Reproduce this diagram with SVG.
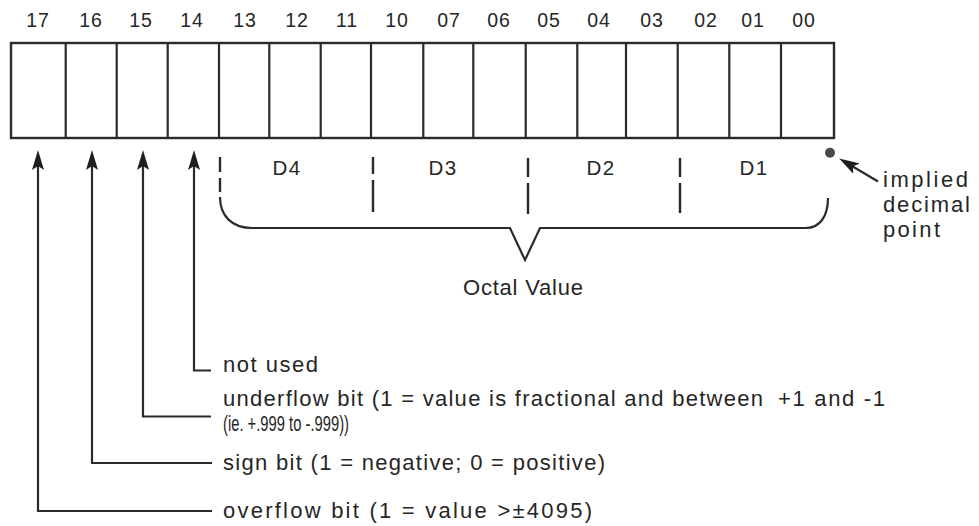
<svg xmlns="http://www.w3.org/2000/svg" width="979" height="526" viewBox="0 0 979 526">
<style>
text{font-family:"Liberation Sans",Arial,Helvetica,sans-serif;fill:#262626}
.bit{font-size:19.5px;text-anchor:middle;letter-spacing:1px}
.dg{font-size:20.5px;text-anchor:middle;letter-spacing:1.5px}
.ann{font-size:22px}
.ln{fill:none;stroke:#2b2b2b;stroke-width:2.2}
.cell{fill:none;stroke:#2b2b2b;stroke-width:2.4}
.dash{stroke:#2b2b2b;stroke-width:2.4;stroke-linecap:butt}
</style>
<defs>
<marker id="ah" viewBox="0 0 20 12" refX="12" refY="6" markerWidth="20" markerHeight="12" markerUnits="userSpaceOnUse" orient="auto">
<path d="M0,0 L20,6 L0,12 L4,6 z" fill="#1e1e1e"/>
</marker>
</defs>

<g id="bit-labels">
<text class="bit" x="38" y="27">17</text>
<text class="bit" x="91" y="27">16</text>
<text class="bit" x="141" y="27">15</text>
<text class="bit" x="192" y="27">14</text>
<text class="bit" x="245" y="27">13</text>
<text class="bit" x="297" y="27">12</text>
<text class="bit" x="347" y="27">11</text>
<text class="bit" x="397" y="27">10</text>
<text class="bit" x="449" y="27">07</text>
<text class="bit" x="499" y="27">06</text>
<text class="bit" x="549" y="27">05</text>
<text class="bit" x="599" y="27">04</text>
<text class="bit" x="652" y="27">03</text>
<text class="bit" x="706" y="27">02</text>
<text class="bit" x="753" y="27">01</text>
<text class="bit" x="804" y="27">00</text>
</g>

<g id="register">
<rect class="cell" x="11" y="43" width="823" height="95"/>
<path class="ln" d="M65.7,43V138M116.7,43V138M167.7,43V138M219,43V138M269.3,43V138M320.7,43V138M371,43V138M423.3,43V138M473.3,43V138M525.7,43V138M577.3,43V138M626,43V138M677.7,43V138M729.3,43V138M781,43V138"/>
</g>

<g id="digit-groups">
<line class="dash" x1="220" y1="157" x2="220" y2="172"/>
<line class="dash" x1="220" y1="178" x2="220" y2="192"/>
<line class="dash" x1="373" y1="157" x2="373" y2="174"/>
<line class="dash" x1="373" y1="180" x2="373" y2="212"/>
<line class="dash" x1="528" y1="158" x2="528" y2="177"/>
<line class="dash" x1="528" y1="183" x2="528" y2="214"/>
<line class="dash" x1="680" y1="158" x2="680" y2="177"/>
<line class="dash" x1="680" y1="183" x2="680" y2="213"/>
<text class="dg" x="287" y="175">D4</text>
<text class="dg" x="443" y="175">D3</text>
<text class="dg" x="601" y="175">D2</text>
<text class="dg" x="754" y="175">D1</text>
</g>

<g id="octal-value">
<path class="ln" d="M220,197 C220,216 232,228 252,228 L510,228 L525,260 L540,228 L806,228 C820,228 828,216 828,198"/>
<text class="ann" x="463" y="295" textLength="120" lengthAdjust="spacing">Octal Value</text>
</g>

<g id="decimal-point">
<circle cx="830" cy="152.7" r="5" fill="#4a4a4a"/>
<text class="ann" x="883" y="187" textLength="85" lengthAdjust="spacing">implied</text>
<text class="ann" x="883" y="212" textLength="87" lengthAdjust="spacing">decimal</text>
<text class="ann" x="883" y="237" textLength="57" lengthAdjust="spacing">point</text>
</g>

<g id="annotations">
<text class="ann" x="223" y="372" textLength="95" lengthAdjust="spacing">not used</text>
<text class="ann" x="223" y="406" textLength="540" lengthAdjust="spacing">underflow bit (1 = value is fractional and between</text>
<text class="ann" x="778" y="406" textLength="107" lengthAdjust="spacing">+1 and -1</text>
<text class="ann" x="223" y="431" textLength="126" lengthAdjust="spacingAndGlyphs">(ie. +.999 to -.999))</text>
<text class="ann" x="223" y="470" textLength="382" lengthAdjust="spacing">sign bit (1 = negative; 0 = positive)</text>
<text class="ann" x="223" y="518" textLength="369" lengthAdjust="spacing">overflow bit (1 = value &gt;±4095)</text>
</g>

<g id="connectors">
<path class="ln" d="M211,370.5 H194 V158" marker-end="url(#ah)"/>
<path class="ln" d="M211,416.5 H143 V158" marker-end="url(#ah)"/>
<path class="ln" d="M212,463 H92 V158" marker-end="url(#ah)"/>
<path class="ln" d="M212,511 H38 V158" marker-end="url(#ah)"/>
<path class="ln" d="M878,181.5 L846,162.5" marker-end="url(#ah)"/>
</g>
</svg>
